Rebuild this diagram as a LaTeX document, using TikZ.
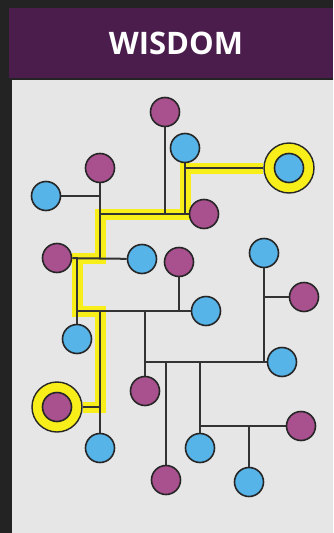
\documentclass[tikz,border=0pt]{standalone}
\usepackage{fontspec}
\setsansfont{Open Sans}
\usepackage{xcolor}
\usepackage{tikz}
\usetikzlibrary{positioning, calc, backgrounds}

\definecolor{framegray}{HTML}{232323}
\definecolor{headpurple}{HTML}{4A1D4D}
\definecolor{panelgray}{HTML}{E6E6E6}
\definecolor{dotpink}{HTML}{A9508E}
\definecolor{dotblue}{HTML}{56B4E9}
\definecolor{glow}{HTML}{F7EE1A}
\definecolor{wiregray}{HTML}{333333}

\begin{document}
\begin{tikzpicture}[
   x=1pt, y=-1pt,
   pinkdot/.style={circle, draw=black!85, line width=1.6pt, fill=dotpink, minimum size=29pt, inner sep=0pt},
   bluedot/.style={circle, draw=black!85, line width=1.6pt, fill=dotblue, minimum size=29pt, inner sep=0pt},
   ring/.style={circle, draw=black!85, line width=1.4pt, fill=glow, minimum size=50pt, inner sep=0pt},
   wire/.style={wiregray, line width=2pt},
   highlight/.style={glow, line width=11pt, line join=miter},
   title/.style={white, font=\sffamily\bfseries\fontsize{31}{31}\selectfont}
]
   \useasboundingbox (0,0) rectangle (333,533);

   % Upper dots
   \node[pinkdot] (m1) at (165,112) {};
   \node[bluedot] (b2) at (185,148) {};
   \node[ring] (r3) at (289,168) {};
   \node[bluedot] (b3) at (r3) {};
   \node[pinkdot] (m4) at (100,168) {};
   \node[bluedot] (b5) at (46,196) {};
   \node[pinkdot] (m6) at (204,214) {};

   % Middle dots
   \node[pinkdot] (m7) at (57,258) {};
   \node[bluedot] (b8) at (142,259) {};
   \node[pinkdot] (m9) at (179,262) {};
   \node[bluedot] (b10) at (264,253) {};
   \node[pinkdot] (m11) at (304,297) {};
   \node[bluedot] (b12) at (206,311) {};
   \node[bluedot] (b13) at (77,339) {};
   \node[bluedot] (b14) at (282,362) {};
   \node[pinkdot] (m15) at (145,391) {};
   \node[ring] (r16) at (57,407) {};
   \node[pinkdot] (m16) at (r16) {};

   % Lower dots
   \node[bluedot] (b17) at (100,448) {};
   \node[pinkdot] (m18) at (301,426) {};
   \node[bluedot] (b19) at (200,448) {};
   \node[pinkdot] (m20) at (166,480) {};
   \node[bluedot] (b21) at (249,482) {};

   \begin{scope}[on background layer]
   % Frame and header
   \fill[framegray] (0,0) rectangle (333,533);
   \fill[headpurple] (9,8) rectangle (333,78);
   \fill[panelgray] (12,80) rectangle (333,533);
   \node[title] (head) at (176,43) {WISDOM};

   % Highlighted route between the two rings
   \draw[highlight] (r3) -- (b2 |- r3) -- (b2 |- m6) -- (m4 |- m6)
      -- (m4 |- m7) -- (b13 |- m7) -- (b13 |- b12) -- (b17 |- b12)
      -- (b17 |- r16) -- (r16);

   % Wires
   \draw[wire] (m1) -- (m1 |- m6);
   \draw[wire] (b2) -- (b2 |- m6);
   \draw[wire] (b2 |- r3) -- (r3);
   \draw[wire] (b5) -- (b5 -| m4);
   \draw[wire] (m4) -- (m4 |- m7);
   \draw[wire] (m4 |- m6) -- (m6);
   \draw[wire] (m7) -- (b8);
   \draw[wire] (b13 |- m7) -- (b13);
   \draw[wire] (b13 |- b12) -- (b12);
   \draw[wire] (m9) -- (m9 |- b12);
   \draw[wire] (b17 |- b12) -- (b17);
   \draw[wire] (r16) -- (r16 -| b17);
   \draw[wire] (m15 |- b12) -- (m15);
   \draw[wire] (m15 |- b14) -- (b14);
   \draw[wire] (b10) -- (b10 |- b14);
   \draw[wire] (b10 |- m11) -- (m11);
   \draw[wire] (m20 |- b14) -- (m20);
   \draw[wire] (b19 |- b14) -- (b19);
   \draw[wire] (b19 |- m18) -- (m18);
   \draw[wire] (b21 |- m18) -- (b21);
   \end{scope}
\end{tikzpicture}
\end{document}
